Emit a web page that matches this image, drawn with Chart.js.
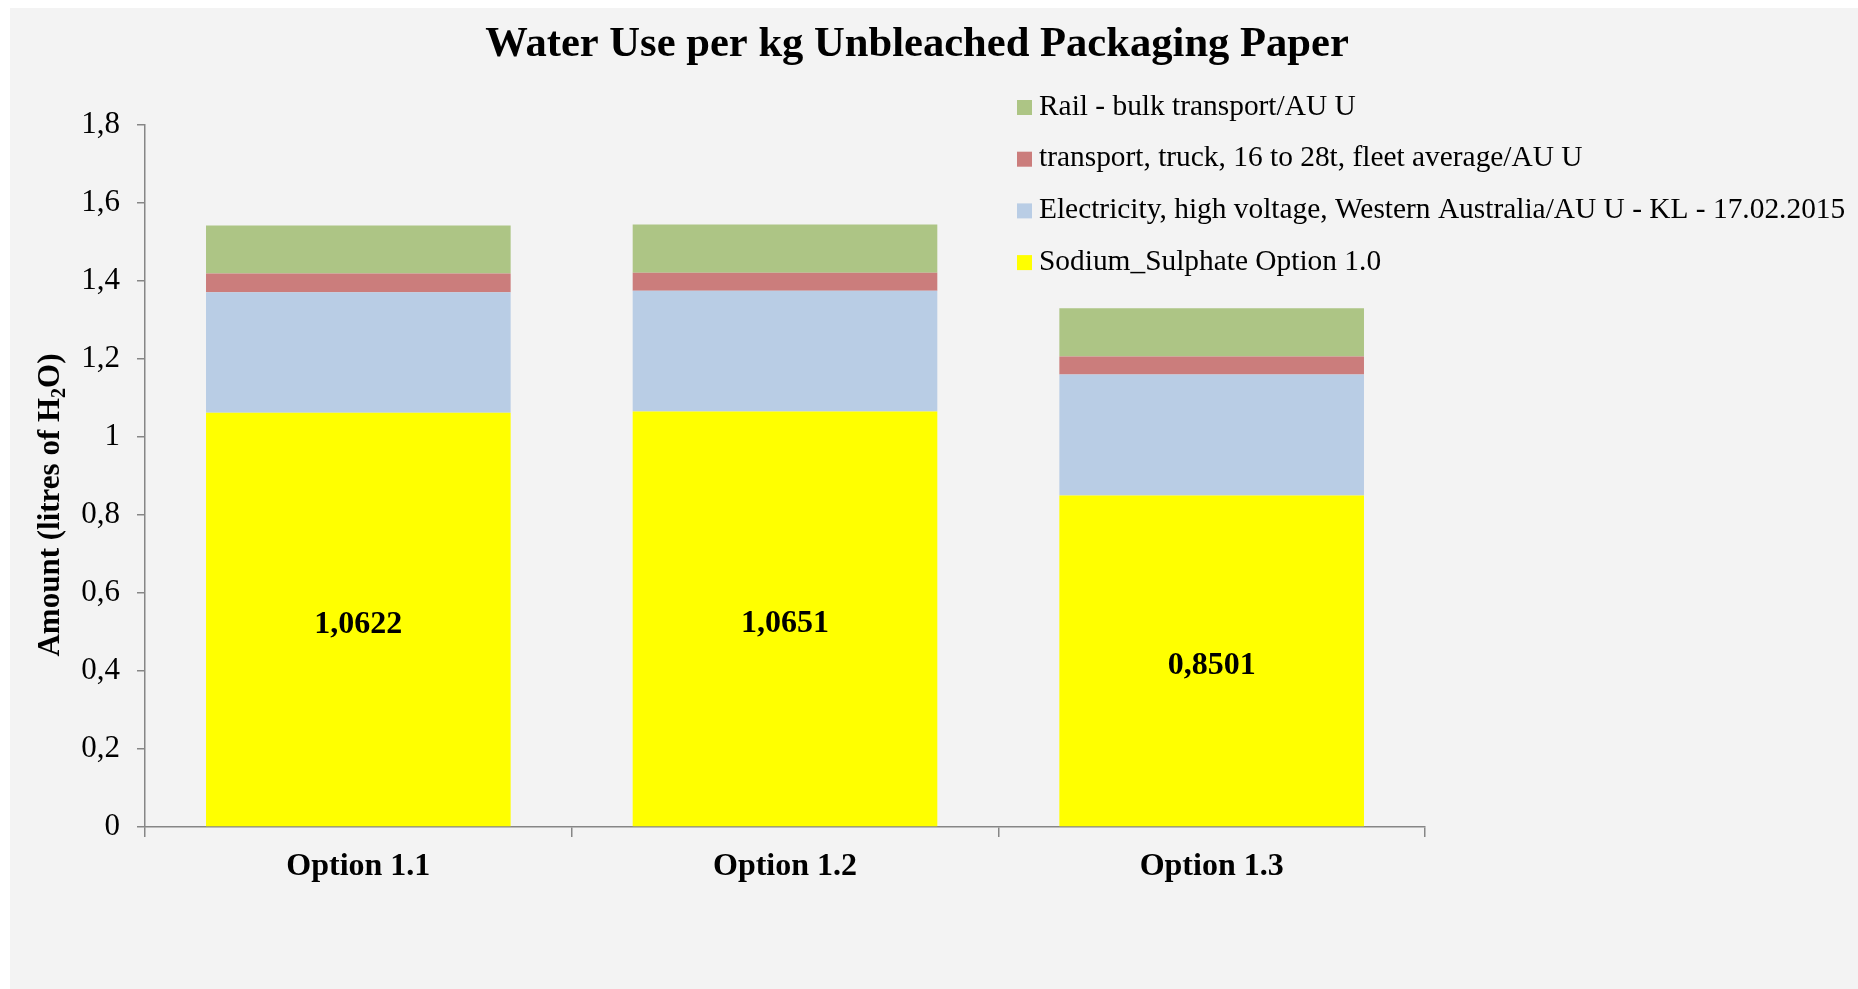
<!DOCTYPE html>
<html>
<head>
<meta charset="utf-8">
<title>Water Use per kg Unbleached Packaging Paper</title>
<script src="https://cdn.jsdelivr.net/npm/chart.js@4/dist/chart.umd.min.js"></script>
<style>
  html, body { margin: 0; padding: 0; background: #ffffff; }
  #wrap { position: absolute; left: 10px; top: 8px; width: 1848px; height: 981px; background: #f3f3f3; }
</style>
</head>
<body>
<div id="wrap"><canvas id="waterChart" width="1848" height="981"></canvas></div>
<script>
// Data
const categories = ['Option 1.1', 'Option 1.2', 'Option 1.3'];
const sodiumSulphate = [1.0622, 1.0651, 0.8501];
const electricity = [0.309, 0.310, 0.310];
const truckTransport = [0.048, 0.046, 0.046];
const railTransport = [0.123, 0.124, 0.124];
const yTicks = [0, 0.2, 0.4, 0.6, 0.8, 1, 1.2, 1.4, 1.6, 1.8];

const seriesNames = [
    'Sodium_Sulphate Option 1.0',
    'Electricity, high voltage, Western Australia/AU U - KL - 17.02.2015',
    'transport, truck, 16 to 28t, fleet average/AU U',
    'Rail - bulk transport/AU U'
];
const seriesColors = ['#ffff00', '#b9cde5', '#cb7d7c', '#adc585'];

const SERIF = '"Liberation Serif", "Times New Roman", serif';
const AXIS = '#868686';

function commaNum(v, digits) {
    const s = digits === undefined ? String(Math.round(v * 10) / 10) : v.toFixed(digits);
    return s.replace('.', ',');
}

// title, y-axis title (with subscript), legend and labels on the yellow bars
const extras = {
    id: 'extras',
    afterDraw(chart) {
        const ctx = chart.ctx;
        ctx.save();
        ctx.fillStyle = '#000';

        // chart title
        ctx.font = 'bold 42.6px ' + SERIF;
        ctx.textAlign = 'center';
        ctx.textBaseline = 'alphabetic';
        ctx.fillText('Water Use per kg Unbleached Packaging Paper', 907, 48);

        // y axis title
        ctx.save();
        ctx.translate(41, 497);
        ctx.rotate(-Math.PI / 2);
        const big = 'bold 31px ' + SERIF, small = 'bold 20px ' + SERIF;
        const p1 = 'Amount (litres of H', p2 = '2', p3 = 'O)';
        ctx.font = big;
        const w1 = ctx.measureText(p1).width, w3 = ctx.measureText(p3).width;
        ctx.font = small;
        const w2 = ctx.measureText(p2).width;
        let x = -(w1 + w2 + w3) / 2;
        ctx.textAlign = 'left';
        ctx.textBaseline = 'middle';
        ctx.font = big; ctx.fillText(p1, x, 0); x += w1;
        ctx.font = small; ctx.fillText(p2, x, 9); x += w2;
        ctx.font = big; ctx.fillText(p3, x, 0);
        ctx.restore();

        // legend, top item is the last dataset
        ctx.font = '29.4px ' + SERIF;
        ctx.textAlign = 'left';
        ctx.textBaseline = 'middle';
        const ds = chart.data.datasets;
        for (let i = 0; i < ds.length; i++) {
            const d = ds[ds.length - 1 - i];
            const yy = 99 + i * 51.7;
            ctx.fillStyle = d.backgroundColor;
            ctx.fillRect(1007, yy - 7, 15, 15);
            ctx.fillStyle = '#000';
            ctx.fillText(d.label, 1029, yy);
        }

        // value labels in the yellow segments
        ctx.font = 'bold 32px ' + SERIF;
        ctx.textAlign = 'center';
        const meta = chart.getDatasetMeta(0);
        meta.data.forEach((bar, i) => {
            const mid = (bar.y + bar.base) / 2;
            ctx.fillText(commaNum(ds[0].data[i], 4), bar.x, mid + 5);
        });
        ctx.restore();
    }
};

const ctx = document.getElementById('waterChart').getContext('2d');
new Chart(ctx, {
    type: 'bar',
    data: {
        labels: categories,
        datasets: [sodiumSulphate, electricity, truckTransport, railTransport].map((vals, i) => ({
            label: seriesNames[i],
            data: vals,
            backgroundColor: seriesColors[i],
            borderWidth: 0,
            barPercentage: 1,
            categoryPercentage: 0.714
        }))
    },
    options: {
        responsive: false,
        animation: false,
        devicePixelRatio: 1,
        layout: { padding: { top: 117, right: 433, bottom: 0, left: 0 } },
        plugins: {
            legend: { display: false },
            title: { display: false },
            tooltip: { enabled: false }
        },
        scales: {
            x: {
                stacked: true,
                afterFit: s => { s.height = 162; },
                grid: { offset: true, drawOnChartArea: false, drawTicks: true, tickLength: 10, color: AXIS, lineWidth: 1.5 },
                border: { display: true, color: AXIS, width: 1.5 },
                ticks: { color: '#000', padding: 11, font: { family: SERIF, size: 32, weight: 'bold' } }
            },
            y: {
                stacked: true,
                min: 0,
                max: 1.8,
                afterFit: s => { s.width = 135; },
                afterBuildTicks: s => { s.ticks = yTicks.map(v => ({ value: v })); },
                grid: { drawOnChartArea: false, drawTicks: true, tickLength: 8, color: AXIS, lineWidth: 1.5 },
                border: { display: true, color: AXIS, width: 1.5 },
                ticks: {
                    color: '#000',
                    padding: 17,
                    font: { family: SERIF, size: 31 },
                    callback: v => commaNum(v)
                }
            }
        }
    },
    plugins: [extras]
});
</script>
</body>
</html>
